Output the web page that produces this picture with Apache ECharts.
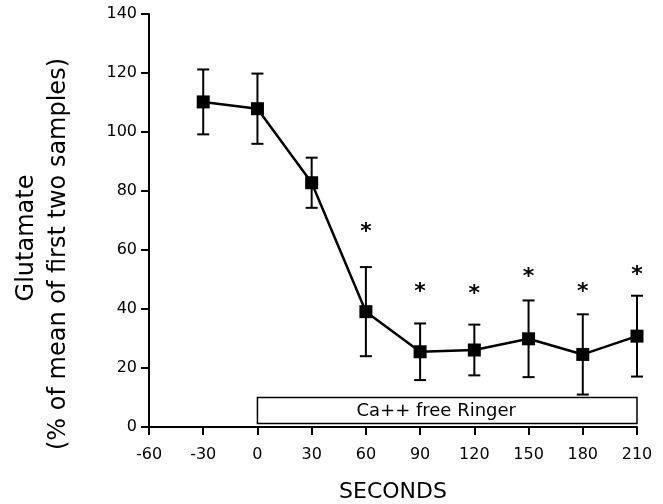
<!DOCTYPE html>
<html>
<head>
<meta charset="utf-8">
<script src="https://cdn.jsdelivr.net/npm/echarts@6/dist/echarts.min.js"></script>
<style>
  html, body { margin: 0; padding: 0; background: #fff; }
  #chart { width: 663px; height: 504px; }
</style>
</head>
<body>
<div id="chart"></div>
<script>
// time after switch, mean glutamate (% of first two samples) and SEM
var seconds = [-30, 0, 30, 60, 90, 120, 150, 180, 210];
var glutamate = [110.2, 107.9, 82.8, 39.1, 25.5, 26.1, 29.9, 24.6, 30.8];
var sem = [11.0, 11.9, 8.5, 15.1, 9.6, 8.6, 13.0, 13.6, 13.7];

// significance stars (*) above the points
var starX = [60, 90, 120, 150, 180, 210];
var starY = [68.4, 48.0, 47.4, 53.2, 48.1, 53.8];

// Ca++ free period
var ringerFrom = 0;
var ringerTo = 210;
var ringerLabel = 'Ca++ free Ringer';

var xTicks = { min: -60, max: 210, interval: 30 };
var yTicks = { min: 0, max: 140, interval: 20 };

var font = 'DejaVu Sans';

var lineData = [];
var errData = [];
for (let i = 0; i < seconds.length; i++) {
    lineData.push([seconds[i], glutamate[i]]);
    errData.push([seconds[i], glutamate[i] - sem[i], glutamate[i] + sem[i]]);
}
var starData = [];
for (let i = 0; i < starX.length; i++) {
    starData.push([starX[i], starY[i]]);
}

var myChart = echarts.init(document.getElementById('chart'));
var option = {
    animation: false,
    backgroundColor: '#fff',
    grid: { left: 149, right: 26, top: 14, bottom: 77, outerBoundsMode: 'none' },
    xAxis: {
        type: 'value',
        min: xTicks.min, max: xTicks.max, interval: xTicks.interval,
        name: 'SECONDS',
        nameLocation: 'middle',
        nameGap: 54,
        nameTextStyle: { fontFamily: font, fontSize: 22, color: '#000' },
        axisLine: { onZero: false, lineStyle: { color: '#000', width: 2 } },
        axisTick: { length: 8, lineStyle: { color: '#000', width: 2 } },
        axisLabel: { fontFamily: font, fontSize: 16, color: '#000', margin: 20 },
        splitLine: { show: false }
    },
    yAxis: {
        type: 'value',
        min: yTicks.min, max: yTicks.max, interval: yTicks.interval,
        axisLine: { onZero: false, lineStyle: { color: '#000', width: 2 } },
        axisTick: { length: 8, lineStyle: { color: '#000', width: 2 } },
        axisLabel: { fontFamily: font, fontSize: 16, color: '#000', margin: 12 },
        splitLine: { show: false }
    },
    graphic: [
        {
            type: 'text', x: 27, y: 238, rotation: Math.PI / 2,
            style: { text: 'Glutamate', font: '24px "DejaVu Sans"', fill: '#000', align: 'center', verticalAlign: 'middle' }
        },
        {
            type: 'text', x: 59, y: 254, rotation: Math.PI / 2,
            style: { text: '(% of mean of first two samples)', font: '24px "DejaVu Sans"', fill: '#000', align: 'center', verticalAlign: 'middle' }
        }
    ],
    series: [
        {
            type: 'custom',
            data: errData,
            z: 2,
            renderItem: function (params, api) {
                var x = api.value(0);
                var lo = api.coord([x, api.value(1)]);
                var hi = api.coord([x, api.value(2)]);
                var w = 6;
                var st = { stroke: '#000', lineWidth: 2 };
                return {
                    type: 'group',
                    children: [
                        { type: 'line', shape: { x1: lo[0], y1: lo[1], x2: hi[0], y2: hi[1] }, style: st },
                        { type: 'line', shape: { x1: lo[0] - w, y1: lo[1], x2: lo[0] + w, y2: lo[1] }, style: st },
                        { type: 'line', shape: { x1: hi[0] - w, y1: hi[1], x2: hi[0] + w, y2: hi[1] }, style: st }
                    ]
                };
            }
        },
        {
            type: 'line',
            data: lineData,
            z: 3,
            symbol: 'rect',
            symbolSize: 13,
            lineStyle: { color: '#000', width: 2.5 },
            itemStyle: { color: '#000' },
            markArea: {
                silent: true,
                itemStyle: { color: '#fff', borderColor: '#000', borderWidth: 1.5 },
                label: {
                    show: true, position: 'inside', offset: [-11, 1],
                    fontFamily: font, fontSize: 18, color: '#000'
                },
                data: [[{ name: ringerLabel, coord: [ringerFrom, 1.2] }, { coord: [ringerTo, 10] }]]
            }
        },
        {
            type: 'custom',
            data: starData,
            z: 4,
            renderItem: function (params, api) {
                var p = api.coord([api.value(0), api.value(1)]);
                return {
                    type: 'text',
                    x: p[0], y: p[1] + 7,
                    style: { text: '*', font: 'bold 22px "DejaVu Sans"', fill: '#000', align: 'center', verticalAlign: 'middle' }
                };
            }
        }
    ]
};
myChart.setOption(option);
</script>
</body>
</html>
